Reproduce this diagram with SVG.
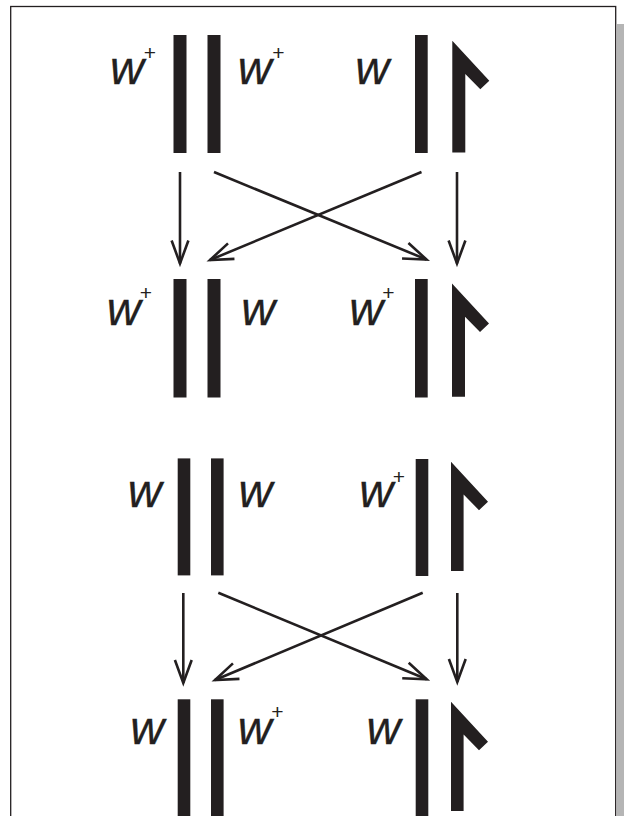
<svg xmlns="http://www.w3.org/2000/svg" width="624" height="816" viewBox="0 0 624 816">
  <style>
    .bar { fill: #231f20; }
    .lbl { font-family: "Liberation Sans", Arial, sans-serif; font-style: italic; font-size: 47px; fill: #231f20; stroke: #231f20; stroke-width: 0.3; }
    .sup { font-family: "Liberation Sans", Arial, sans-serif; font-size: 21px; fill: #231f20; text-anchor: middle; }
    .arr { fill: none; stroke: #231f20; stroke-width: 2.6; marker-end: url(#head); }
  </style>
  <defs>
    <marker id="head" markerUnits="userSpaceOnUse" orient="auto" refX="0" refY="0" markerWidth="30" markerHeight="30" viewBox="-26 -13 30 26" overflow="visible">
      <path d="M -23 -8.4 L 0 0 L -23 8.4" fill="none" stroke="#231f20" stroke-width="2.6" stroke-linejoin="miter"/>
    </marker>
  </defs>

  <rect id="shadow" x="617" y="24" width="7" height="800" fill="#b5b5b5"/>
  <rect id="frame" x="10.7" y="6.5" width="605" height="830" fill="#ffffff" stroke="#231f20" stroke-width="1.3"/>

  <!-- Row 1 -->
  <g id="r1-left">
    <rect class="bar" x="173.5" y="35" width="13" height="118"/>
    <rect class="bar" x="207.5" y="35" width="13" height="118"/>
    <text class="lbl" x="110" y="83.5">w</text>
    <text class="sup" x="150" y="59.5">+</text>
    <text class="lbl" x="237.8" y="83.5">w</text>
    <text class="sup" x="278.3" y="59.5">+</text>
  </g>
  <g id="r1-right">
    <rect class="bar" x="415" y="35" width="12.7" height="118"/>
    <polygon class="bar" points="452.3,40.7 489.3,80.7 480.3,89.2 465.3,74 465.3,152.5 452.3,152.5"/>
    <text class="lbl" x="355.2" y="83.5">w</text>
  </g>

  <!-- Row 2 -->
  <g id="r2-left">
    <rect class="bar" x="173.5" y="279" width="13" height="118.5"/>
    <rect class="bar" x="207.5" y="279" width="13" height="118.5"/>
    <text class="lbl" x="106.8" y="324.5">w</text>
    <text class="sup" x="146" y="300.3">+</text>
    <text class="lbl" x="241.2" y="324.5">w</text>
  </g>
  <g id="r2-right">
    <rect class="bar" x="415" y="279" width="12.7" height="118.5"/>
    <polygon class="bar" points="452,283.5 489,323.5 480,332 465,316.8 465,396.8 452,396.8"/>
    <text class="lbl" x="349.2" y="324.5">w</text>
    <text class="sup" x="388.3" y="300.3">+</text>
  </g>

  <!-- Row 3 -->
  <g id="r3-left">
    <rect class="bar" x="177.7" y="458.4" width="12.6" height="117"/>
    <rect class="bar" x="211" y="458.4" width="12.6" height="117"/>
    <text class="lbl" x="127.8" y="506.8">w</text>
    <text class="lbl" x="238.5" y="506.8">w</text>
  </g>
  <g id="r3-right">
    <rect class="bar" x="415.7" y="459" width="12.6" height="117"/>
    <polygon class="bar" points="451,461.7 488,501.7 479,510.2 463.6,494.6 463.6,571 451,571"/>
    <text class="lbl" x="359.2" y="506.8">w</text>
    <text class="sup" x="399" y="483.7">+</text>
  </g>

  <!-- Row 4 -->
  <g id="r4-left">
    <rect class="bar" x="177.7" y="699.3" width="12.6" height="130"/>
    <rect class="bar" x="211" y="699.3" width="12.6" height="130"/>
    <text class="lbl" x="130.2" y="744">w</text>
    <text class="lbl" x="237.8" y="744">w</text>
    <text class="sup" x="277.3" y="719.3">+</text>
  </g>
  <g id="r4-right">
    <rect class="bar" x="415.7" y="699.3" width="12.6" height="130"/>
    <polygon class="bar" points="451,701.7 488,741.7 479,750.2 463.6,734.6 463.6,811 451,811"/>
    <text class="lbl" x="366.5" y="744">w</text>
  </g>

  <!-- Connectors -->
  <g id="connectors">
    <line class="arr" x1="180" y1="172" x2="180" y2="263.5"/>
    <line class="arr" x1="457" y1="172" x2="457" y2="263.5"/>
    <line class="arr" x1="214" y1="172" x2="426.5" y2="259.5"/>
    <line class="arr" x1="421.5" y1="172" x2="210" y2="260"/>
    <line class="arr" x1="183.3" y1="593" x2="183.3" y2="683"/>
    <line class="arr" x1="457.3" y1="593" x2="457.3" y2="682"/>
    <line class="arr" x1="218.3" y1="592.7" x2="426.7" y2="679.3"/>
    <line class="arr" x1="422.7" y1="592.7" x2="215" y2="680"/>
  </g>
</svg>
